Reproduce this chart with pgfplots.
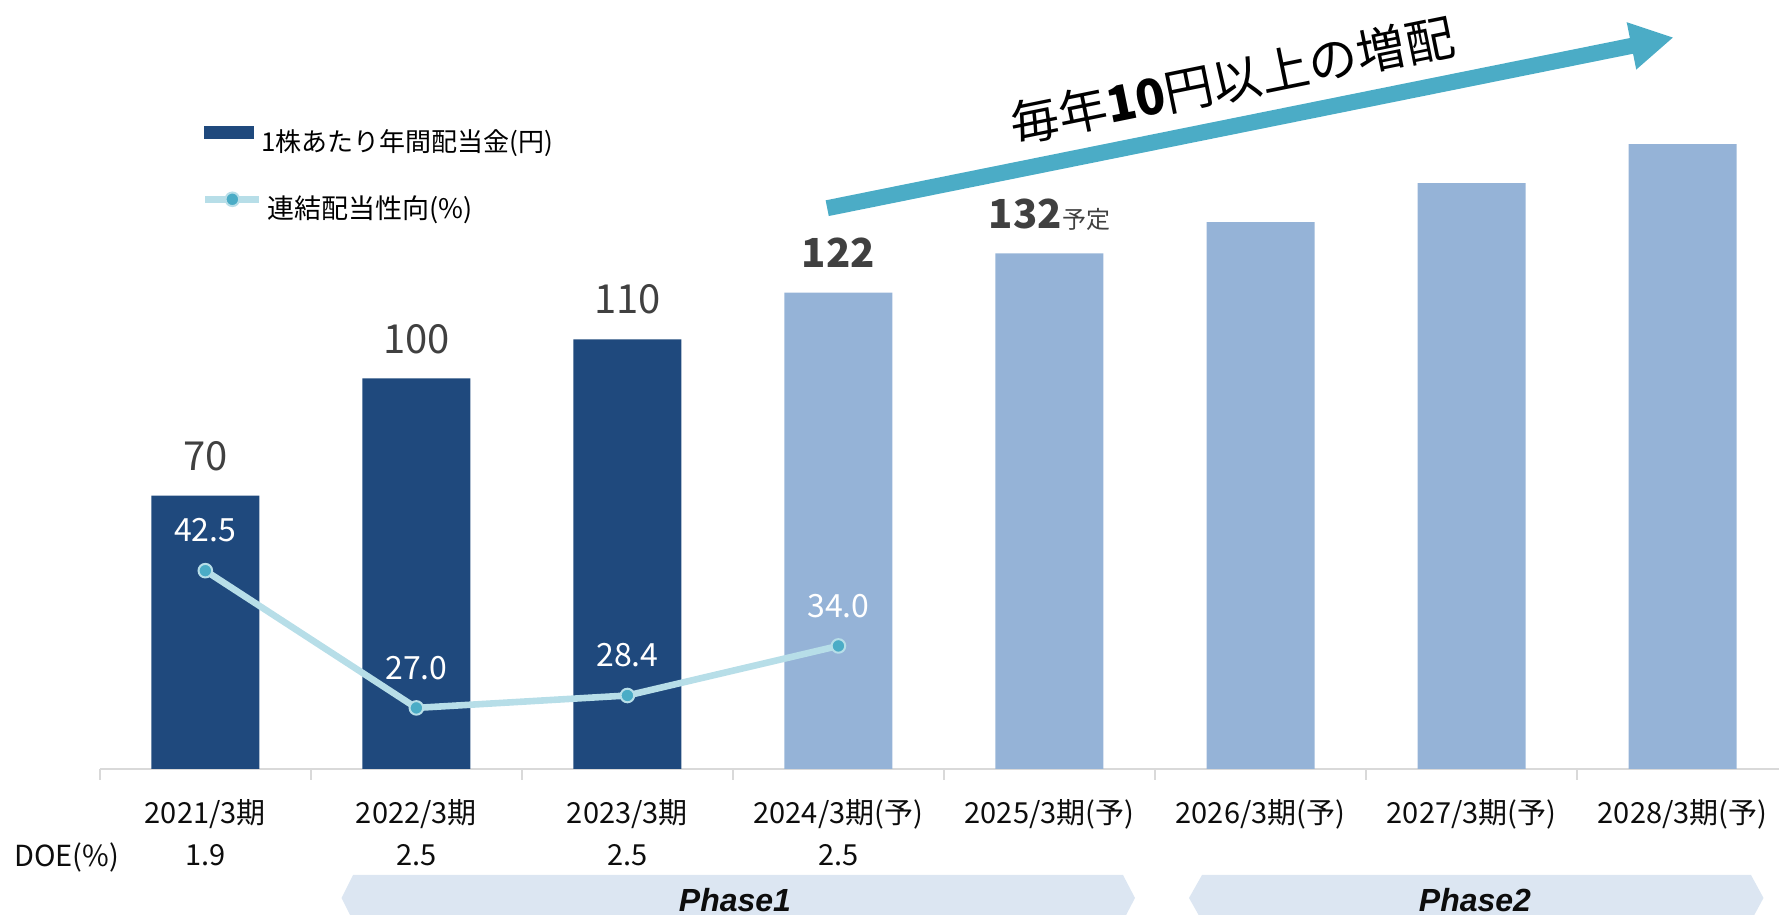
\documentclass[border=0pt]{standalone}
\usepackage{fontspec}
\setmainfont{Noto Sans CJK JP}
\newfontfamily\phasefont{Liberation Sans}
\usepackage{pgfplots}
\pgfplotsset{compat=1.18}
\usetikzlibrary{arrows.meta}
\definecolor{darkbar}{HTML}{1F497D}
\definecolor{lightbar}{HTML}{95B3D7}
\definecolor{linecol}{HTML}{B7DEE8}
\definecolor{markcol}{HTML}{4BACC6}
\definecolor{arrowcol}{HTML}{4BACC6}
\definecolor{phasefill}{HTML}{DCE6F2}
\definecolor{labelgray}{HTML}{404040}
\definecolor{axisgray}{HTML}{D9D9D9}
\definecolor{ticktext}{HTML}{0D0D0D}
\pgfplotsset{
  barlegend/.style={legend image code/.code={\fill[darkbar] (0pt,1.45pt) rectangle (25pt,7.95pt);}},
  linelegend/.style={legend image code/.code={\draw[linecol, line width=3.3pt] (0pt,4.7pt) -- (27pt,4.7pt); \fill[markcol, draw=linecol, line width=1pt] (13.5pt,4.7pt) circle (3.4pt);}},
  myframe/.style={at={(49.9pt,73pt)}, anchor=south west, scale only axis, width=839.6pt, height=351.5pt, xmin=-0.5, xmax=7.457, clip=false}
}
\begin{document}
\begin{tikzpicture}
\useasboundingbox (0,0) rectangle (889.5pt,457.5pt);
% phase banners
\fill[phasefill] (176.5pt,20pt) -- (561.5pt,20pt) -- (567.5pt,8.5pt) -- (561.5pt,-3pt) -- (176.5pt,-3pt) -- (170.8pt,8.5pt) -- cycle;
\fill[phasefill] (601pt,20pt) -- (875.5pt,20pt) -- (881.75pt,8.5pt) -- (875.5pt,-3pt) -- (601pt,-3pt) -- (594.5pt,8.5pt) -- cycle;
\node[font=\phasefont\fontsize{16}{19}\selectfont\bfseries\itshape, text=ticktext, inner sep=0pt] at (367.5pt,7.5pt) {Phase1};
\node[font=\phasefont\fontsize{16}{19}\selectfont\bfseries\itshape, text=ticktext, inner sep=0pt] at (737.5pt,7.5pt) {Phase2};
% big arrow
\draw[arrowcol, line width=8pt, -{Triangle[length=21.5pt, width=22.5pt]}] (413.6pt,353.4pt) -- (836.8pt,438.8pt);
\node[rotate=11.5, font=\fontsize{24.5}{29}\selectfont, inner sep=0pt] at (616pt,417.5pt) {毎年{\bfseries 10}円以上の増配};
% DOE label
\node[anchor=base west, inner sep=0pt, font=\fontsize{14.5}{17}\selectfont, text=ticktext] at (7pt,24.45pt) {DOE(\%)};

\begin{axis}[myframe,
  ymin=0, ymax=180,
  axis x line=bottom, axis y line=none,
  x axis line style={draw=axisgray, line width=1.2pt, -},
  xtick={0,...,7},
  xticklabels={2021/3期, 2022/3期, 2023/3期, 2024/3期(予), 2025/3期(予), 2026/3期(予), 2027/3期(予), 2028/3期(予)},
  minor xtick={-0.5,0.5,...,6.5},
  major tick length=0pt, minor tick length=5.5pt, tick align=outside,
  minor tick style={draw=axisgray, line width=1pt},
  xticklabel style={anchor=base, yshift=-27.3pt, inner sep=0pt, font=\fontsize{14.5}{17}\selectfont, text=ticktext},
  ybar, bar width=54pt,
  legend style={at={(axis description cs:0.0621,0.8947)}, anchor=west, draw=none, fill=none, inner sep=0pt, outer sep=0pt, nodes={inner sep=0pt}, column sep=3.5pt, font=\fontsize{13}{16}\selectfont},
  legend cell align=left,
]
\addplot[fill=darkbar, draw=none, bar shift=0pt, barlegend,
  point meta=explicit symbolic, nodes near coords,
  every node near coord/.append style={anchor=base, yshift=12.7pt, inner sep=0pt, font=\fontsize{20}{24}\selectfont, text=labelgray}]
  coordinates {(0,70) [70] (1,100) [100] (2,110) [110]};
\addlegendentry{1株あたり年間配当金(円)}
\addplot[fill=lightbar, draw=none, bar shift=0pt, forget plot,
  point meta=explicit symbolic, nodes near coords,
  every node near coord/.append style={anchor=base, yshift=12.7pt, inner sep=0pt, font=\fontsize{20}{24}\selectfont, text=labelgray}]
  coordinates {(3,122) [\textbf{122}] (4,132) [{\textbf{132}\fontsize{12}{14}\selectfont 予定}]};
\addplot[fill=lightbar, draw=none, bar shift=0pt, forget plot]
  coordinates {(5,140) (6,150) (7,160)};
\node[anchor=base, yshift=-48.4pt, inner sep=0pt, font=\fontsize{14.5}{17}\selectfont, text=ticktext] at (axis cs:0,0) {1.9};
\node[anchor=base, yshift=-48.4pt, inner sep=0pt, font=\fontsize{14.5}{17}\selectfont, text=ticktext] at (axis cs:1,0) {2.5};
\node[anchor=base, yshift=-48.4pt, inner sep=0pt, font=\fontsize{14.5}{17}\selectfont, text=ticktext] at (axis cs:2,0) {2.5};
\node[anchor=base, yshift=-48.4pt, inner sep=0pt, font=\fontsize{14.5}{17}\selectfont, text=ticktext] at (axis cs:3,0) {2.5};
\end{axis}

\begin{axis}[myframe,
  ymin=20.1, ymax=99.5,
  hide axis,
  legend style={at={(axis description cs:0.0609,0.8001)}, anchor=west, draw=none, fill=none, inner sep=0pt, outer sep=0pt, nodes={inner sep=0pt}, column sep=2.5pt, font=\fontsize{13.5}{16}\selectfont},
  legend cell align=left,
]
\addplot[linecol, line width=3.3pt, mark=*, mark size=3.4pt, mark options={fill=markcol, draw=linecol, line width=1pt}, linelegend,
  point meta=explicit symbolic, nodes near coords,
  every node near coord/.append style={anchor=base, yshift=14.4pt, inner sep=0pt, font=\fontsize{16}{19}\selectfont, text=white}]
  coordinates {(0,42.5) [42.5] (1,27.0) [27.0] (2,28.4) [28.4] (3,34.0) [34.0]};
\addlegendentry{連結配当性向(\%)}
\end{axis}
\end{tikzpicture}
\end{document}
